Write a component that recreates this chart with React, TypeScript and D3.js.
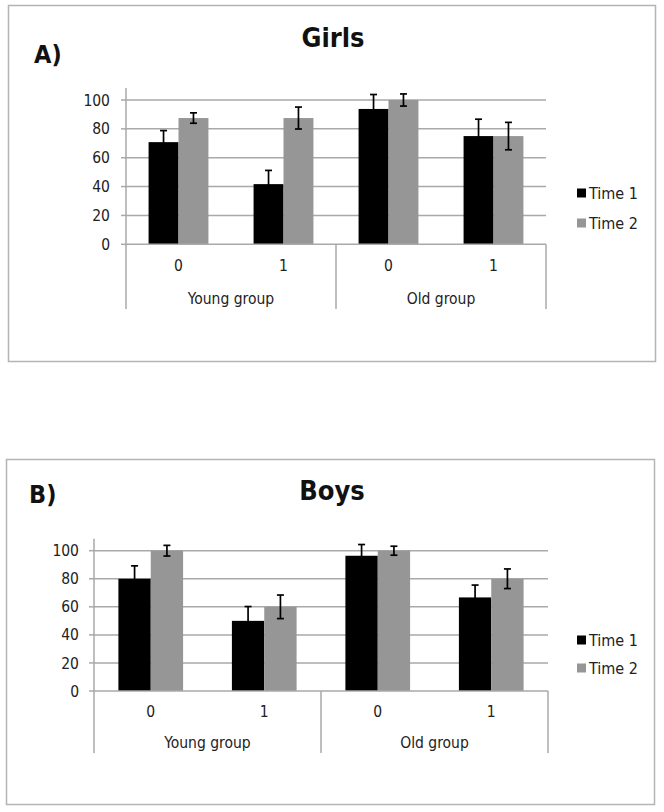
import { useEffect, useRef } from "react";
import * as d3 from "d3";

// categories
const groups = ["Young group", "Old group"];
const subCats = ["0", "1"];
const seriesNames = ["Time 1", "Time 2"];
const yTicks = [0, 20, 40, 60, 80, 100];

// Girls (panel A)
const girlsTime1 = [70.8, 41.7, 93.8, 75];
const girlsTime2 = [87.5, 87.5, 100, 75];
const girlsErr1 = [8, 9.5, 10, 11.7];
const girlsErr2 = [3.6, 7.6, 4.2, 9.5];

// Boys (panel B)
const boysTime1 = [80, 50, 96.4, 66.7];
const boysTime2 = [100, 60, 100, 80];
const boysErr1 = [9.2, 10.2, 8, 8.8];
const boysErr2 = [3.8, 8.4, 3.2, 7];

const colors = ["#000000", "#969696"];
const gridColor = "#a9a9a9";
const FONT = "'DejaVu Sans Condensed', 'DejaVu Sans', sans-serif";

interface Panel {
  letter: string;
  title: string;
  values: number[][];
  errors: number[][];
  box: { x0: number; y0: number; x1: number; y1: number };
  plot: { left: number; right: number; top: number; bottom: number };
  titleX: number;
  titleY: number;
  letterX: number;
  letterY: number;
  tickGap: number;
  catY: number;
  groupY: number;
  sepBottom: number;
  legendX: number;
  legendY: number[];
}

const panels: Panel[] = [
  {
    letter: "A)",
    title: "Girls",
    values: [girlsTime1, girlsTime2],
    errors: [girlsErr1, girlsErr2],
    box: { x0: 8, y0: 5, x1: 655, y1: 361 },
    plot: { left: 126, right: 546, top: 100, bottom: 244.3 },
    titleX: 333,
    titleY: 47,
    letterX: 34,
    letterY: 63,
    tickGap: 16,
    catY: 271,
    groupY: 304,
    sepBottom: 309,
    legendX: 577,
    legendY: [193, 223],
  },
  {
    letter: "B)",
    title: "Boys",
    values: [boysTime1, boysTime2],
    errors: [boysErr1, boysErr2],
    box: { x0: 6, y0: 459, x1: 654, y1: 804 },
    plot: { left: 94, right: 548, top: 550.7, bottom: 691 },
    titleX: 332,
    titleY: 500,
    letterX: 29,
    letterY: 503,
    tickGap: 15,
    catY: 717,
    groupY: 748,
    sepBottom: 753,
    legendX: 577,
    legendY: [640, 668],
  },
];

export default function App() {
  const svgRef = useRef<SVGSVGElement>(null);

  useEffect(() => {
    if (!svgRef.current) return;
    const svg = d3.select(svgRef.current);
    svg.selectAll("*").remove();

    const cats = groups.flatMap((g) => subCats.map((s) => `${g}|${s}`));

    panels.forEach((p) => {
      const g = svg.append("g");

      // outer border
      g.append("rect")
        .attr("x", p.box.x0 + 0.5)
        .attr("y", p.box.y0 + 0.5)
        .attr("width", p.box.x1 - p.box.x0)
        .attr("height", p.box.y1 - p.box.y0)
        .attr("fill", "#fff")
        .attr("stroke", "#b4b4b4")
        .attr("stroke-width", 1.5);

      const x = d3
        .scaleBand()
        .domain(cats)
        .range([p.plot.left, p.plot.right])
        .paddingInner(0.43)
        .paddingOuter(0.215);
      const xSub = d3
        .scaleBand()
        .domain(seriesNames)
        .range([0, x.bandwidth()]);
      const y = d3
        .scaleLinear()
        .domain([0, 100])
        .range([p.plot.bottom, p.plot.top]);

      // gridlines
      g.selectAll(".grid")
        .data(yTicks.filter((t) => t > 0))
        .join("line")
        .attr("x1", p.plot.left)
        .attr("x2", p.plot.right)
        .attr("y1", (d) => y(d))
        .attr("y2", (d) => y(d))
        .attr("stroke", gridColor)
        .attr("stroke-width", 1.5);

      // y axis line + ticks
      g.append("line")
        .attr("x1", p.plot.left)
        .attr("x2", p.plot.left)
        .attr("y1", y(0))
        .attr("y2", p.plot.top - 12)
        .attr("stroke", gridColor)
        .attr("stroke-width", 1.5);
      g.selectAll(".ytick")
        .data(yTicks)
        .join("line")
        .attr("x1", p.plot.left - 5)
        .attr("x2", p.plot.left)
        .attr("y1", (d) => y(d))
        .attr("y2", (d) => y(d))
        .attr("stroke", gridColor)
        .attr("stroke-width", 1.5);
      g.selectAll(".ylab")
        .data(yTicks)
        .join("text")
        .attr("x", p.plot.left - p.tickGap)
        .attr("y", (d) => y(d))
        .attr("dy", "0.36em")
        .attr("text-anchor", "end")
        .attr("font-family", FONT)
        .attr("font-size", 15.5)
        .attr("fill", "#222")
        .text((d) => d);

      // bars
      seriesNames.forEach((s, si) => {
        g.selectAll(`.bar${si}`)
          .data(p.values[si])
          .join("rect")
          .attr("x", (_, i) => (x(cats[i]) ?? 0) + (xSub(s) ?? 0))
          .attr("width", xSub.bandwidth())
          .attr("y", (d) => y(d))
          .attr("height", (d) => y(0) - y(d))
          .attr("fill", colors[si]);
      });

      // x axis line
      g.append("line")
        .attr("x1", p.plot.left)
        .attr("x2", p.plot.right)
        .attr("y1", y(0))
        .attr("y2", y(0))
        .attr("stroke", gridColor)
        .attr("stroke-width", 1.5);

      // error bars
      seriesNames.forEach((s, si) => {
        p.values[si].forEach((v, i) => {
          const cx = (x(cats[i]) ?? 0) + (xSub(s) ?? 0) + xSub.bandwidth() / 2;
          const e = p.errors[si][i];
          const eb = g.append("g").attr("stroke", "#000").attr("stroke-width", 1.7);
          eb.append("line").attr("x1", cx).attr("x2", cx).attr("y1", y(v - e)).attr("y2", y(v + e));
          [v - e, v + e].forEach((yy) =>
            eb.append("line").attr("x1", cx - 3.5).attr("x2", cx + 3.5).attr("y1", y(yy)).attr("y2", y(yy))
          );
        });
      });

      // category separators
      const groupW = (p.plot.right - p.plot.left) / groups.length;
      d3.range(groups.length + 1).forEach((k) => {
        const sx = p.plot.left + k * groupW;
        g.append("line")
          .attr("x1", sx)
          .attr("x2", sx)
          .attr("y1", y(0))
          .attr("y2", p.sepBottom)
          .attr("stroke", gridColor)
          .attr("stroke-width", 1.5);
      });

      // sub-category labels
      g.selectAll(".xlab")
        .data(cats)
        .join("text")
        .attr("x", (d) => (x(d) ?? 0) + x.bandwidth() / 2)
        .attr("y", p.catY)
        .attr("text-anchor", "middle")
        .attr("font-family", FONT)
        .attr("font-size", 15.5)
        .attr("fill", "#222")
        .text((d) => d.split("|")[1]);

      // group labels
      g.selectAll(".glab")
        .data(groups)
        .join("text")
        .attr("x", (_, k) => p.plot.left + (k + 0.5) * groupW)
        .attr("y", p.groupY)
        .attr("text-anchor", "middle")
        .attr("font-family", FONT)
        .attr("font-size", 15.5)
        .attr("fill", "#222")
        .text((d) => d);

      // legend
      seriesNames.forEach((s, si) => {
        g.append("rect")
          .attr("x", p.legendX)
          .attr("y", p.legendY[si] - 4.5)
          .attr("width", 9)
          .attr("height", 9)
          .attr("fill", colors[si]);
        g.append("text")
          .attr("x", p.legendX + 12)
          .attr("y", p.legendY[si])
          .attr("dy", "0.36em")
          .attr("font-family", FONT)
          .attr("font-size", 16)
          .attr("fill", "#222")
          .text(s);
      });

      // title and panel letter
      g.append("text")
        .attr("x", p.titleX)
        .attr("y", p.titleY)
        .attr("text-anchor", "middle")
        .attr("font-family", FONT)
        .attr("font-weight", "bold")
        .attr("font-size", 27)
        .attr("fill", "#111")
        .text(p.title);
      g.append("text")
        .attr("x", p.letterX)
        .attr("y", p.letterY)
        .attr("font-family", FONT)
        .attr("font-weight", "bold")
        .attr("font-size", 25)
        .attr("fill", "#111")
        .text(p.letter);
    });
  }, []);

  return (
    <svg
      ref={svgRef}
      width={664}
      height={812}
      style={{ position: "absolute", left: 0, top: 0, background: "#fff" }}
    />
  );
}
